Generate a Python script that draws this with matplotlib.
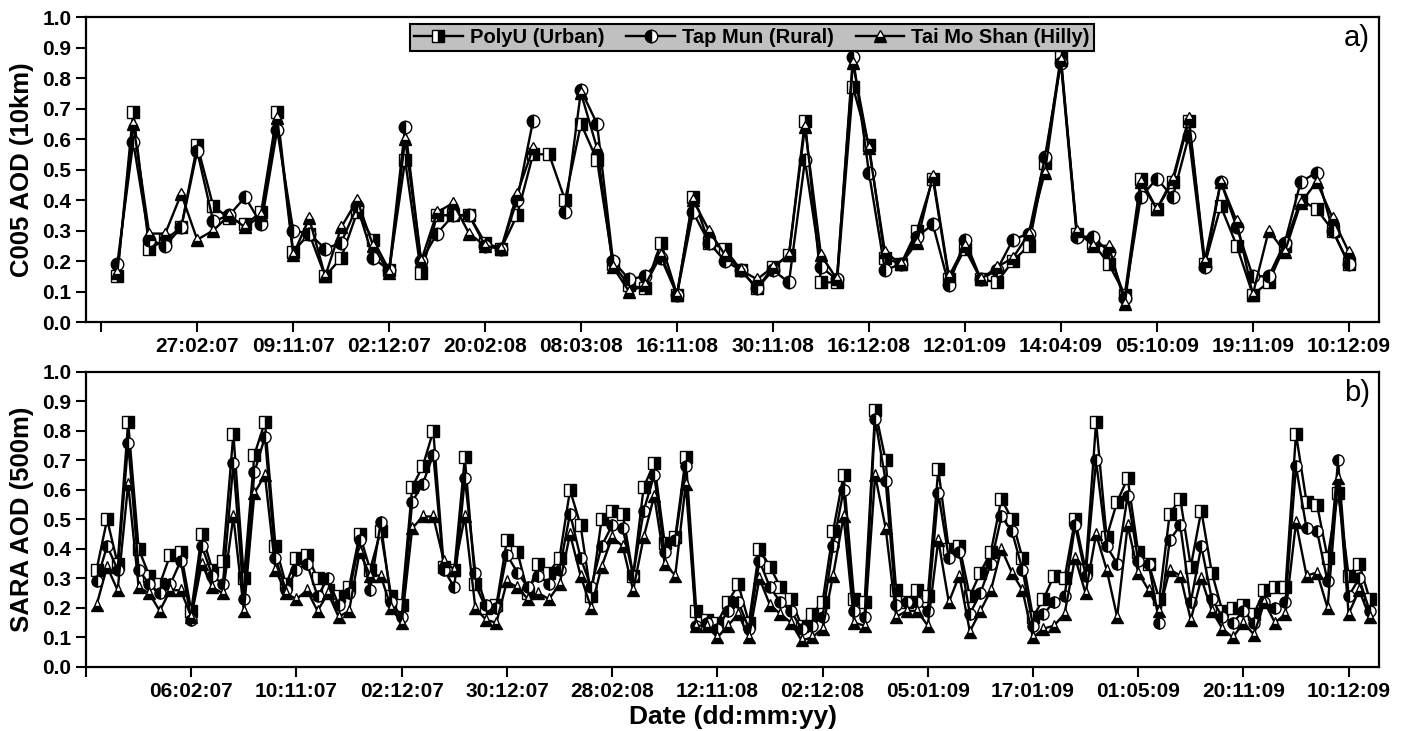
import numpy as np
import matplotlib
matplotlib.use("Agg")
from matplotlib import pyplot as plt

nan = np.nan

# panel a: C005 AOD (10km), one value per matched day
polyu_a = [0.15, 0.69, 0.24, 0.27, 0.31, 0.58, 0.38, 0.34, 0.32, 0.36, 0.69, 0.23, 0.29, 0.15, 0.21, 0.36,
           0.27, 0.17, 0.53, 0.16, 0.35, 0.35, 0.35, 0.26, 0.24, 0.35, 0.55, 0.55, 0.40, 0.65, 0.53, 0.19,
           0.12, 0.11, 0.26, 0.09, 0.41, 0.26, 0.24, 0.17, 0.11, 0.18, 0.22, 0.66, 0.13, 0.13, 0.77, 0.58,
           0.21, 0.19, 0.30, 0.47, 0.14, 0.24, 0.14, 0.13, 0.20, 0.25, 0.52, 0.87, 0.29, 0.26, 0.19, 0.09,
           0.47, 0.37, 0.46, 0.66, 0.19, 0.38, 0.25, 0.09, 0.13, 0.25, 0.40, 0.37, 0.30, 0.19]
tapmun_a = [0.19, 0.59, 0.27, 0.25, 0.31, 0.56, 0.33, 0.35, 0.41, 0.32, 0.63, 0.30, 0.29, 0.24, 0.26, 0.38,
            0.21, 0.17, 0.64, 0.20, 0.29, 0.35, 0.35, 0.25, 0.24, 0.40, 0.66, nan, 0.36, 0.76, 0.65, 0.20,
            0.14, 0.15, 0.21, 0.09, 0.36, 0.26, 0.20, 0.17, 0.11, 0.17, 0.13, 0.53, 0.18, 0.14, 0.87, 0.49,
            0.17, 0.19, 0.28, 0.32, 0.12, 0.27, 0.14, 0.17, 0.27, 0.29, 0.54, 0.85, 0.28, 0.28, 0.23, 0.08,
            0.41, 0.47, 0.41, 0.61, 0.18, 0.46, 0.31, 0.15, 0.15, 0.26, 0.46, 0.49, 0.30, 0.19]
tms_a = [0.16, 0.65, 0.29, 0.29, 0.42, 0.27, 0.30, 0.35, 0.31, 0.35, 0.67, 0.22, 0.34, 0.15, 0.31, 0.40,
         0.25, 0.16, 0.60, 0.20, 0.36, 0.39, 0.29, 0.25, 0.24, 0.42, 0.57, nan, nan, 0.75, 0.57, 0.18,
         0.10, 0.12, 0.22, 0.09, 0.40, 0.30, 0.22, 0.17, 0.14, 0.18, 0.22, 0.64, 0.22, 0.14, 0.85, 0.57,
         0.23, 0.19, 0.26, 0.48, 0.15, 0.25, 0.14, 0.18, 0.21, 0.29, 0.49, 0.86, 0.30, 0.25, 0.25, 0.06,
         0.46, 0.37, 0.47, 0.67, 0.20, 0.46, 0.33, 0.09, 0.30, 0.23, 0.39, 0.46, 0.34, 0.23]
dates_a = ["27:02:07", "09:11:07", "02:12:07", "20:02:08", "08:03:08", "16:11:08", "30:11:08",
           "16:12:08", "12:01:09", "14:04:09", "05:10:09", "19:11:09", "10:12:09"]

# panel b: SARA AOD (500m)
polyu_b = [0.33, 0.50, 0.35, 0.83, 0.40, 0.31, 0.28, 0.38, 0.39, 0.19, 0.45, 0.33, 0.36, 0.79, 0.30, 0.72,
           0.83, 0.41, 0.28, 0.37, 0.38, 0.30, 0.26, 0.24, 0.27, 0.45, 0.33, 0.46, 0.24, 0.21, 0.61, 0.68,
           0.80, 0.34, 0.33, 0.71, 0.28, 0.20, 0.21, 0.43, 0.39, 0.25, 0.35, 0.32, 0.37, 0.60, 0.48, 0.24,
           0.50, 0.53, 0.52, 0.31, 0.61, 0.69, 0.42, 0.44, 0.71, 0.19, 0.16, 0.15, 0.22, 0.28, 0.15, 0.40,
           0.34, 0.27, 0.23, 0.14, 0.18, 0.22, 0.46, 0.65, 0.23, 0.22, 0.87, 0.70, 0.26, 0.22, 0.26, 0.24,
           0.67, 0.40, 0.41, 0.24, 0.32, 0.39, 0.57, 0.50, 0.37, 0.17, 0.23, 0.31, 0.30, 0.50, 0.33, 0.83,
           0.44, 0.56, 0.64, 0.39, 0.35, 0.23, 0.52, 0.57, 0.34, 0.53, 0.32, 0.19, 0.20, 0.21, 0.18, 0.26,
           0.27, 0.27, 0.79, 0.56, 0.55, 0.37, 0.59, 0.31, 0.35, 0.23]
tapmun_b = [0.29, 0.41, 0.33, 0.76, 0.33, 0.28, 0.25, 0.28, 0.36, 0.16, 0.41, 0.31, 0.28, 0.69, 0.23, 0.66,
            0.78, 0.37, 0.26, 0.33, 0.35, 0.24, 0.30, 0.21, 0.25, 0.43, 0.26, 0.49, 0.22, 0.17, 0.56, 0.62,
            0.72, 0.33, 0.27, 0.64, 0.32, 0.21, 0.20, 0.38, 0.32, 0.27, 0.31, 0.28, 0.33, 0.52, 0.37, 0.27,
            0.41, 0.48, 0.47, 0.31, 0.53, 0.65, 0.39, 0.43, 0.68, 0.14, 0.15, 0.13, 0.19, 0.22, 0.13, 0.36,
            0.27, 0.22, 0.19, 0.13, 0.14, 0.17, 0.41, 0.60, 0.19, 0.17, 0.84, 0.63, 0.21, 0.22, 0.22, 0.19,
            0.59, 0.37, 0.39, 0.18, 0.25, 0.35, 0.51, 0.46, 0.33, 0.14, 0.18, 0.22, 0.24, 0.48, 0.31, 0.70,
            0.41, 0.35, 0.58, 0.36, 0.35, 0.15, 0.43, 0.48, 0.22, 0.41, 0.23, 0.17, 0.15, 0.19, 0.15, 0.22,
            0.20, 0.22, 0.68, 0.47, 0.46, 0.29, 0.70, 0.24, 0.30, 0.19]
tms_b = [0.21, 0.34, 0.26, 0.62, 0.27, 0.25, 0.19, 0.26, 0.26, 0.17, 0.35, 0.27, 0.25, 0.51, 0.19, 0.59,
         0.65, 0.33, 0.25, 0.23, 0.26, 0.19, 0.25, 0.17, 0.19, 0.39, 0.31, 0.31, 0.20, 0.15, 0.47, 0.51,
         0.51, 0.36, 0.33, 0.51, 0.20, 0.16, 0.15, 0.29, 0.27, 0.23, 0.25, 0.23, 0.28, 0.45, 0.31, 0.20,
         0.34, 0.44, 0.41, 0.26, 0.44, 0.58, 0.35, 0.31, 0.62, 0.14, 0.14, 0.10, 0.14, 0.18, 0.10, 0.30,
         0.21, 0.18, 0.15, 0.09, 0.10, 0.13, 0.31, 0.51, 0.15, 0.14, 0.65, 0.47, 0.17, 0.19, 0.19, 0.14,
         0.43, 0.22, 0.31, 0.12, 0.19, 0.26, 0.40, 0.32, 0.26, 0.10, 0.13, 0.14, 0.18, 0.37, 0.25, 0.45,
         0.33, 0.17, 0.48, 0.32, 0.26, 0.19, 0.33, 0.31, 0.16, 0.30, 0.19, 0.13, 0.10, 0.15, 0.11, 0.22,
         0.15, 0.18, 0.49, 0.31, 0.32, 0.20, 0.64, 0.18, 0.26, 0.17]
dates_b = ["06:02:07", "10:11:07", "02:12:07", "30:12:07", "28:02:08", "12:11:08", "02:12:08",
           "05:01:09", "17:01:09", "01:05:09", "20:11:09", "10:12:09"]

names = ["PolyU (Urban)", "Tap Mun (Rural)", "Tai Mo Shan (Hilly)"]
markers = ['s', 'o', '^']
fills = ['right', 'left', 'bottom']

plt.rcParams['font.family'] = ['Liberation Sans', 'DejaVu Sans']
plt.rcParams['font.weight'] = 'bold'

fig = plt.figure(figsize=(14.11, 7.31), dpi=100)
ax1 = fig.add_axes([0.061, 0.5595, 0.9164, 0.4172])
ax2 = fig.add_axes([0.061, 0.0876, 0.9164, 0.4036])


def draw(ax, series, step, ms, xlim, labels, ylabel, tag):
    x = np.arange(1, len(series[0]) + 1)
    handles = []
    for y, m, f, name in zip(series, markers, fills, names):
        h, = ax.plot(x, y, color='black', lw=1.7, marker=m, ms=ms, fillstyle=f,
                     markerfacecolor='black', markerfacecoloralt='white',
                     markeredgecolor='black', markeredgewidth=1.0, label=name)
        handles.append(h)
    ticks = np.arange(0, len(labels) * step + 1, step)
    ax.set_xticks(ticks)
    ax.set_xticklabels([''] + labels)
    ax.set_xlim(*xlim)
    ax.set_ylim(0, 1.0)
    ax.set_yticks(np.arange(0, 1.01, 0.1))
    ax.set_yticklabels(['%.1f' % v for v in np.arange(0, 1.01, 0.1)])
    ax.tick_params(direction='out', length=7, width=1.5, labelsize=15)
    for lab in ax.get_xticklabels() + ax.get_yticklabels():
        lab.set_fontweight('bold')
    for s in ax.spines.values():
        s.set_linewidth(1.6)
    ax.set_ylabel(ylabel, fontsize=18.5, fontweight='bold', labelpad=6)
    ax.text(0.993, 0.93, tag, transform=ax.transAxes, ha='right', va='center',
            fontsize=21, fontweight='normal')
    return handles


h = draw(ax1, [polyu_a, tapmun_a, tms_a], 6, 9, (-0.95, 79.9), dates_a, 'C005 AOD (10km)', 'a)')
draw(ax2, [polyu_b, tapmun_b, tms_b], 10, 8, (0, 122.9), dates_b, 'SARA AOD (500m)', 'b)')
ax2.set_xlabel('Date (dd:mm:yy)', fontsize=19, fontweight='bold', labelpad=3)

leg = ax1.legend(handles=h, loc='upper center', bbox_to_anchor=(0.515, 0.978), ncol=3,
                 fontsize=14.5, frameon=True, fancybox=False, framealpha=1,
                 facecolor='#c0c0c0', edgecolor='black', handlelength=2.4,
                 handletextpad=0.35, columnspacing=1.1, borderpad=0.2, borderaxespad=0)
leg.get_frame().set_linewidth(1.5)
for t in leg.get_texts():
    t.set_fontweight('bold')

fig.savefig('out.png', dpi=100)
